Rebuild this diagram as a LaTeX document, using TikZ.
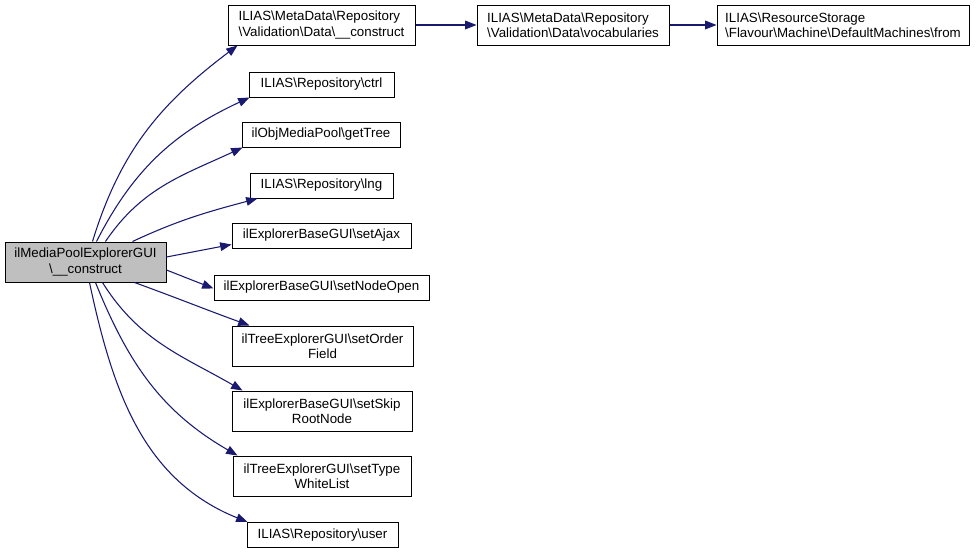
\documentclass[tikz,border=0pt]{standalone}
\usepackage{fontspec}
\setmainfont{Liberation Sans}
\usetikzlibrary{arrows.meta}
\definecolor{callblue}{HTML}{191970}
\definecolor{rootgray}{HTML}{BFBFBF}
\newdimen\dpx
\dpx=0.75pt
\tikzset{
  fn/.style={draw=black, line width=0.75pt, inner sep=0pt, align=center,
    font=\fontsize{10}{11.5}\selectfont, minimum height=25\dpx},
  fntwo/.style={fn, minimum height=40\dpx},
  call/.style={draw=callblue, line width=0.8pt,
    -{Triangle[length=8.5pt,width=6.5pt,color=callblue]}},
}
\newcommand{\bs}{\textbackslash}
\begin{document}
\begin{tikzpicture}[x=0.75pt,y=0.75pt]
      \useasboundingbox (0,0) rectangle (977,-554);
      \path
        (85.5,-262) node[fntwo,fill=rootgray,minimum width=161\dpx] (root){ilMediaPoolExplorerGUI\\\bs\_\_construct}
        (321.5,-25) node[fntwo,align=left,minimum width=187\dpx] (construct){ILIAS\bs MetaData\bs Repository\\\bs Validation\bs Data\bs\_\_construct}
        (573,-25) node[fntwo,align=left,minimum width=192\dpx] (vocabularies){ILIAS\bs MetaData\bs Repository\\\bs Validation\bs Data\bs vocabularies}
        (843,-25) node[fntwo,align=left,minimum width=252\dpx] (from){ILIAS\bs ResourceStorage\\\bs Flavour\bs Machine\bs DefaultMachines\bs from}
        (321.5,-84.5) node[fn,minimum width=145\dpx] (ctrl){ILIAS\bs Repository\bs ctrl}
        (321,-134.5) node[fn,minimum width=158\dpx] (getTree){ilObjMediaPool\bs getTree}
        (321.5,-185.5) node[fn,minimum width=143\dpx] (lng){ILIAS\bs Repository\bs lng}
        (321.5,-235.5) node[fn,minimum width=179\dpx] (setAjax){ilExplorerBaseGUI\bs setAjax}
        (321.5,-287.5) node[fn,minimum width=215\dpx] (setNodeOpen){ilExplorerBaseGUI\bs setNodeOpen}
        (322.5,-346) node[fntwo,minimum width=181\dpx] (setOrderField){ilTreeExplorerGUI\bs setOrder\\Field}
        (322,-411) node[fntwo,minimum width=180\dpx] (setSkipRootNode){ilExplorerBaseGUI\bs setSkip\\RootNode}
        (322,-476) node[fntwo,minimum width=178\dpx] (setTypeWhiteList){ilTreeExplorerGUI\bs setType\\WhiteList}
        (322.5,-535) node[fn,minimum width=151\dpx] (user){ILIAS\bs Repository\bs user};
      \begin{scope}[call]
        \draw ([xshift=88\dpx]root.north west) to[out=73,in=217] ([xshift=10\dpx]construct.south west);
        \draw (construct) to (vocabularies);
        \draw (vocabularies) to (from);
        \draw ([xshift=92\dpx]root.north west) to[out=63,in=205] ([xshift=1\dpx]ctrl.south west);
        \draw ([xshift=101\dpx]root.north west) to[out=56,in=205] ([xshift=1\dpx]getTree.south west);
        \draw ([xshift=128\dpx]root.north west) to[out=25,in=195] ([xshift=8\dpx]lng.south west);
        \draw ([yshift=5\dpx]root.east) to ([yshift=-9\dpx]setAjax.west);
        \draw ([yshift=-8\dpx]root.east) to ([yshift=-1\dpx]setNodeOpen.west);
        \draw ([xshift=130\dpx]root.south west) to[out=-20,in=160] ([xshift=18\dpx]setOrderField.north west);
        \draw ([xshift=98\dpx]root.south west) to[out=-58,in=150] ([xshift=11\dpx]setSkipRootNode.north west);
        \draw ([xshift=91\dpx]root.south west) to[out=-68,in=150] ([xshift=5\dpx]setTypeWhiteList.north west);
        \draw ([xshift=85\dpx]root.south west) to[out=-78,in=158] ([xshift=1\dpx]user.north west);
      \end{scope}
    \end{tikzpicture}
\end{document}
